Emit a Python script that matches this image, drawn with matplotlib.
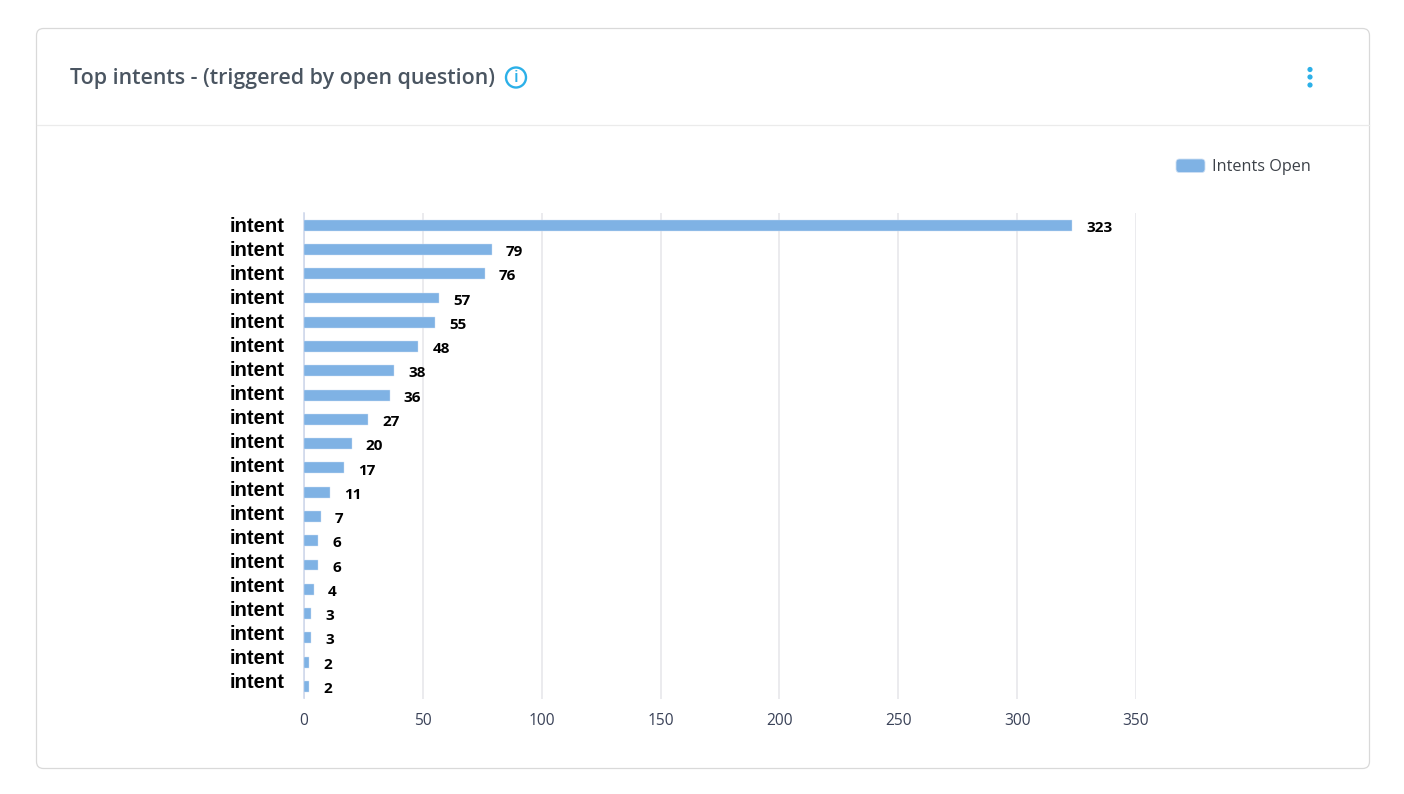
#!/usr/bin/env python3
# -*- coding: utf-8 -*-

import numpy as np
import matplotlib
matplotlib.use('Agg')
import matplotlib.pyplot as plt
from matplotlib.patches import FancyBboxPatch, Circle

# ---------------------------
# DATA
# ---------------------------

intent_labels = ['intent'] * 20
intent_counts = [323, 79, 76, 57, 55, 48, 38, 36, 27, 20, 17, 11, 7, 6, 6, 4, 3, 3, 2, 2]
x_ticks = [0, 50, 100, 150, 200, 250, 300, 350]

series_name = 'Intents Open'
card_title = 'Top intents - (triggered by open question)'

# ---------------------------
# STYLE
# ---------------------------

W, H = 1404, 794
BAR_COLOR = '#7fb2e4'
BAR_EDGE = '#cfe0f4'
GRID_COLOR = '#ebebee'
AXIS_COLOR = '#ccd6eb'
TITLE_COLOR = '#4a5561'
ACCENT = '#2cb0e8'
BORDER = '#d9d9d9'

plt.rcParams['font.family'] = ['Open Sans', 'DejaVu Sans']

fig = plt.figure(figsize=(W / 100, H / 100), dpi=100, facecolor='white')

# card chrome, drawn in pixel coordinates
bg = fig.add_axes([0, 0, 1, 1], zorder=0)
bg.set_xlim(0, W)
bg.set_ylim(H, 0)
bg.axis('off')

bg.add_patch(FancyBboxPatch((36.5, 28.5), 1333, 740, boxstyle='round,pad=0,rounding_size=7',
                            fc='white', ec=BORDER, lw=0.9))
bg.plot([37, 1369], [125, 125], color='#ebebeb', lw=0.9)

bg.text(69.5, 78.5, card_title, fontsize=15.38, fontweight='semibold', color=TITLE_COLOR,
        va='center', ha='left')

# info icon and menu dots
bg.add_patch(Circle((516, 77.5), 10, fc='white', ec=ACCENT, lw=1.7))
bg.text(516, 77.5, 'i', fontsize=12, fontweight='semibold', color=ACCENT, ha='center', va='center')
for dot_y in [69.5, 77, 85]:
    bg.add_patch(Circle((1310, dot_y), 2.6, fc=ACCENT, ec='none'))

# legend
bg.add_patch(FancyBboxPatch((1176, 159), 29, 13.5, boxstyle='round,pad=0,rounding_size=3.5',
                            fc=BAR_COLOR, ec=BAR_EDGE, lw=0.6))
bg.text(1212, 167, series_name, fontsize=11.7, color='#3c4148', va='center', ha='left')

# ---------------------------
# BAR CHART
# ---------------------------

ax_left, ax_right = 304, 1136
ax_top, ax_bottom = 213, 698.5
ax = fig.add_axes([ax_left / W, 1 - ax_bottom / H, (ax_right - ax_left) / W, (ax_bottom - ax_top) / H],
                  zorder=1)
ax.patch.set_alpha(0)

positions = np.arange(len(intent_counts))
row_px = (ax_bottom - ax_top) / len(intent_counts)

ax.barh(positions, intent_counts, height=0.45, color=BAR_COLOR, edgecolor=BAR_EDGE,
        linewidth=0.3, zorder=3)

ax.set_xlim(0, 350)
ax.set_ylim(len(intent_counts) - 0.5, -0.5)

ax.set_xticks(x_ticks)
ax.tick_params(axis='x', length=0, pad=10.5, labelsize=11.2, labelcolor='#3a4258')
ax.xaxis.grid(True, color=GRID_COLOR, lw=1.4, zorder=0)
ax.set_axisbelow(True)

# the category labels run on a slightly tighter 24 px pitch than the bars
ax.set_yticks([])
for pos, name in zip(positions, intent_labels):
    label_y = pos * 24.0 / row_px
    ax.annotate(name, xy=(0, label_y), xycoords=('data', 'data'), xytext=(-14.2, -0.8),
                textcoords='offset points', ha='right', va='center',
                fontsize=14.6, fontweight='bold', family='Liberation Sans', color='black')

# value labels sit just below each bar centre
for pos, value in zip(positions, intent_counts):
    ax.annotate(str(value), xy=(value, pos), xytext=(10.2, -1.9), textcoords='offset points',
                ha='left', va='center', fontsize=11, fontweight='bold', color='black')

for side in ['top', 'right', 'bottom']:
    ax.spines[side].set_visible(False)
ax.spines['left'].set_color(AXIS_COLOR)
ax.spines['left'].set_linewidth(1.1)

fig.savefig('out.png', dpi=100)
